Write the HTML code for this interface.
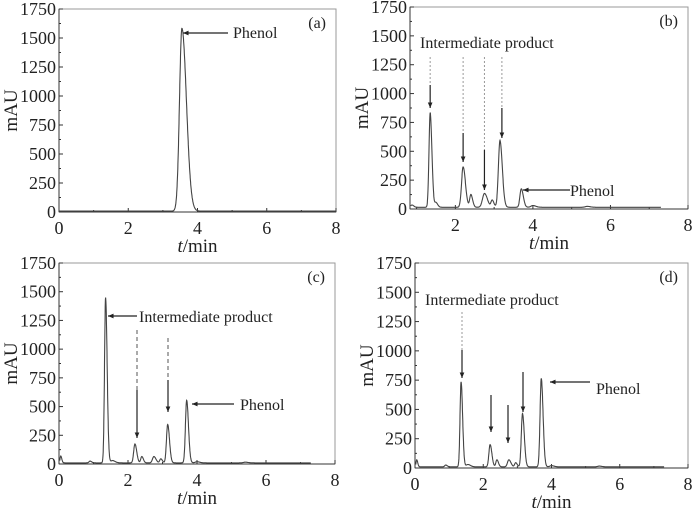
<!DOCTYPE html>
<html><head><meta charset="utf-8"><style>
body{margin:0;background:#fff}
svg text{font-family:"Liberation Serif","Times New Roman",serif;fill:#222}
</style></head><body>
<svg id="s" width="700" height="512" xmlns="http://www.w3.org/2000/svg"></svg>
<script>
const S=document.getElementById('s');let h='';
const F='font-family="Liberation Serif, serif"';
function P(o){
 const {L,R,T,B,x0,x1,lab}=o;
 const X=t=>L+(t-x0)/(x1-x0)*(R-L), Y=v=>B-v/1750*(B-T);
 o.X=X;o.Y=Y;
 h+=`<rect x="${L}" y="${T}" width="${R-L}" height="${B-T}" fill="none" stroke="#999" stroke-width="1"/>`;
 h+=`<line x1="${L}" y1="${B}" x2="${R}" y2="${B}" stroke="#333"/><line x1="${L}" y1="${T}" x2="${L}" y2="${B}" stroke="#333"/>`;
 for(let v=0;v<=1750;v+=250){h+=`<line x1="${L}" x2="${L+4}" y1="${Y(v)}" y2="${Y(v)}" stroke="#333"/><text ${F} x="${L-3}" y="${Y(v)+6}" font-size="18" text-anchor="end">${v}</text>`;
  if(v<1750)h+=`<line x1="${L}" x2="${L+2}" y1="${Y(v+125)}" y2="${Y(v+125)}" stroke="#333"/>`;}
 for(let t=0;t<=8;t+=1){if(t<x0-0.01)continue;const maj=t%2==0;h+=`<line x1="${X(t)}" x2="${X(t)}" y1="${B}" y2="${B-(maj?4:2)}" stroke="#333"/>`;
  if(maj)h+=`<text ${F} x="${X(t)}" y="${B+22}" font-size="18" text-anchor="middle">${t}</text>`;}
 h+=`<text ${F} x="${(L+R)/2}" y="${B+40}" font-size="19" text-anchor="middle"><tspan font-style="italic">t</tspan>/min</text>`;
 h+=`<text ${F} transform="translate(${L-42},${(T+B)/2}) rotate(-90)" font-size="19" text-anchor="middle">mAU</text>`;
 h+=`<text ${F} x="${R-10}" y="${T+19}" font-size="16" text-anchor="end">${lab}</text>`;
 let d='';for(let t=o.s;t<=o.e;t+=0.005){let v=o.base;for(const p of o.pk){const s=t<p[0]?p[2]:(p[3]||p[2]*1.5);v+=p[1]*Math.exp(-((t-p[0])**2)/(2*s*s));}
  d+=(d?'L':'M')+X(t).toFixed(1)+','+Y(v).toFixed(1);}
 h+=`<path d="${d}" fill="none" stroke="#444" stroke-width="1.1"/>`;
}
function arr(x1,y1,x2,y2,c='#222'){h+=`<line x1="${x1}" y1="${y1}" x2="${x2}" y2="${y2}" stroke="${c}" stroke-width="1.2"/>`;
 const a=Math.atan2(y2-y1,x2-x1),l=6;h+=`<polygon points="${x2},${y2} ${x2-l*Math.cos(a-0.4)},${y2-l*Math.sin(a-0.4)} ${x2-l*Math.cos(a+0.4)},${y2-l*Math.sin(a+0.4)}" fill="${c}"/>`;}
function dot(x,y1,y2){h+=`<line x1="${x}" y1="${y1}" x2="${x}" y2="${y2}" stroke="#999" stroke-dasharray="2,2"/>`;}
const a={L:59,R:336,T:9,B:212,x0:0,x1:8,lab:'(a)',s:0,e:8,base:8,pk:[[3.55,1575,0.07,0.13]]};P(a);
arr(228,33,183,33);h+=`<text ${F} x="233" y="38" font-size="16">Phenol</text>`;
const b={L:410,R:688,T:7,B:209,x0:0.83,x1:8,lab:'(b)',s:0.85,e:7.3,base:15,pk:[[0.88,20,0.03],[1.35,820,0.03],[1.5,40,0.03],[2.2,350,0.04],[2.4,110,0.03],[2.75,120,0.05],[2.95,60,0.03],[3.15,580,0.04],[3.7,160,0.035],[4.0,15,0.05],[5.4,8,0.05]]};P(b);
h+=`<text ${F} x="420" y="48" font-size="16">Intermediate product</text>`;
[[1.35,85,108],[2.2,133,162],[2.75,150,190],[3.2,108,138]].forEach(([t,y1,y2])=>{const x=b.X(t);dot(x,57,y1);arr(x,y1,x,y2);});
arr(570,190,523,190);h+=`<text ${F} x="570" y="196" font-size="16">Phenol</text>`;
const c={L:59,R:335,T:263,B:464,x0:0,x1:8,lab:'(c)',s:0.02,e:7.3,base:10,pk:[[0.05,60,0.02],[0.9,15,0.03],[1.35,1440,0.03],[1.55,20,0.05],[2.2,165,0.035],[2.4,55,0.03],[2.75,55,0.04],[2.95,35,0.03],[3.15,335,0.035],[3.7,545,0.035],[4.0,10,0.05],[5.4,6,0.05]]};P(c);
arr(137,316,108,316);h+=`<text ${F} x="139" y="322" font-size="16">Intermediate product</text>`;
h+=`<line x1="137" y1="330" x2="137" y2="390" stroke="#555" stroke-dasharray="4,3"/>`;arr(137,390,137,438);
h+=`<line x1="168" y1="338" x2="168" y2="380" stroke="#555" stroke-dasharray="4,3"/>`;arr(168,380,168,412);
arr(234,404,192,404);h+=`<text ${F} x="240" y="410" font-size="16">Phenol</text>`;
const d={L:415,R:688,T:263,B:468,x0:0,x1:8,lab:'(d)',s:0.02,e:7.3,base:10,pk:[[0.05,60,0.02],[0.9,15,0.03],[1.35,725,0.03],[1.55,20,0.05],[2.2,190,0.035],[2.4,60,0.03],[2.75,60,0.04],[2.95,35,0.03],[3.15,455,0.035],[3.7,755,0.035],[4.0,10,0.05],[5.4,6,0.05]]};P(d);
h+=`<text ${F} x="425" y="305" font-size="16">Intermediate product</text>`;
dot(462,312,350);arr(462,350,462,378);arr(491,395,491,432);arr(508,405,508,443);arr(523,372,523,412);
arr(590,382,550,382);h+=`<text ${F} x="596" y="394" font-size="16">Phenol</text>`;
S.innerHTML=h;
</script>
</body></html>
